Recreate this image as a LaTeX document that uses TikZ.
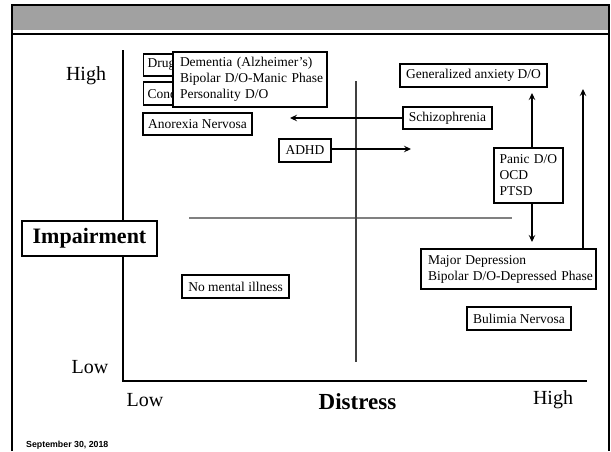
\documentclass[tikz,border=0pt]{standalone}
\usepackage{fontspec}
\setmainfont{Liberation Serif}
\newfontfamily\datefont{Liberation Sans}
\usetikzlibrary{arrows.meta}
\begin{document}
\begin{tikzpicture}[x=1pt,y=-1pt,
  box/.style={draw, line width=1.1pt, fill=white, inner sep=0pt, font=\fontsize{13.5}{16}\selectfont},
  mbox/.style={box, align=left, inner xsep=4pt, inner ysep=0pt},
  axlab/.style={font=\fontsize{20}{22}\selectfont, inner sep=0pt},
  biglab/.style={font=\fontsize{23}{25}\selectfont\bfseries, inner sep=0pt},
  arr/.style={line width=1.1pt, -{Stealth[length=7pt,width=6.5pt,inset=2.5pt]}},
  frameline/.style={line width=2.5pt, black}
]
\useasboundingbox (0,0) rectangle (611,451);
% frame and title band
\fill[white] (0,0) rectangle (611,451);
\fill[black!37] (12,5) rectangle (609,30);
\draw[line width=1.3pt] (12,34) -- (609,34);
\draw[frameline] (12,451) -- (12,5) -- (609,5) -- (609,451);
% axes
\draw[line width=1.5pt] (123,50) -- (123,381);
\draw[line width=1.8pt] (122.25,381) -- (587,381);
\draw[line width=1.8pt, black!50] (189,218) -- (512,218);
\draw[line width=1.2pt, black!75] (356,81) -- (356,362);
% axis labels
\node[axlab] (yhigh) at (86,76) {High};
\node[axlab] (ylow) at (90,367) {Low};
\node[axlab] (xlow) at (145,400) {Low};
\node[axlab] (xhigh) at (553,400) {High};
\node[biglab] (distress) at (357.5,402) {Distress};
\node[draw, line width=1.1pt, fill=white, font=\fontsize{22}{24}\selectfont\bfseries, minimum width=135pt, minimum height=35pt, inner sep=0pt] (impair) at (89.5,238.5) {Impairment};
% boxes
\node[box, anchor=west, text width=52pt, inner xsep=4pt, minimum height=22pt, align=left] (drug) at (143,65) {Drug};
\node[box, anchor=west, text width=52pt, inner xsep=4pt, minimum height=23pt, align=left] (cond) at (143,93.5) {Cond};
\node[mbox, text width=146pt, minimum height=55pt] (dementia) at (250,79.5) {\mbox{\hspace*{3pt}Dementia (Alzheimer’s)}\\\mbox{\hspace*{3pt}Bipolar D/O-Manic Phase}\\\mbox{\hspace*{3pt}Personality D/O}};
\node[box, minimum width=109pt, minimum height=22pt] (anorexia) at (197.5,124) {Anorexia Nervosa};
\node[box, minimum width=147pt, minimum height=23pt] (gad) at (473.5,75.5) {Generalized anxiety D/O};
\node[box, minimum width=89pt, minimum height=22pt] (schiz) at (447.5,118) {Schizophrenia};
\node[box, minimum width=52pt, minimum height=23pt] (adhd) at (305,150.5) {ADHD};
\node[mbox, text width=62pt, inner xsep=3.5pt, minimum height=55pt] (panic) at (528.5,175.5) {\mbox{\hspace*{2pt}Panic D/O}\\\mbox{\hspace*{2pt}OCD}\\\mbox{\hspace*{2pt}PTSD}};
\node[mbox, text width=167pt, minimum height=40pt] (majdep) at (508.5,269) {\mbox{\hspace*{3pt}Major Depression}\\\mbox{\hspace*{3pt}Bipolar D/O-Depressed Phase}};
\node[box, minimum width=107pt, minimum height=23pt] (nomental) at (235.5,286.5) {No mental illness};
\node[box, minimum width=104pt, minimum height=23pt] (bulimia) at (519,318.5) {Bulimia Nervosa};
% arrows
\coordinate (schiztip) at (290,118);
\coordinate (adhdtip) at (411,149);
\coordinate (uptip) at (532,93);
\coordinate (downtip) at (532,242);
\coordinate (righttip) at (583,89);
\draw[arr] (schiz.west) -- (schiztip);
\draw[arr] (adhd.east |- adhdtip) -- (adhdtip);
\draw[arr] (uptip |- panic.north) -- (uptip);
\draw[arr] (downtip |- panic.south) -- (downtip);
\draw[arr] (righttip |- majdep.north) -- (righttip);
% date
\node[anchor=west, inner sep=0pt, font=\datefont\fontsize{8.8}{10}\selectfont\bfseries] (date) at (26,445) {September 30, 2018};
\end{tikzpicture}
\end{document}
